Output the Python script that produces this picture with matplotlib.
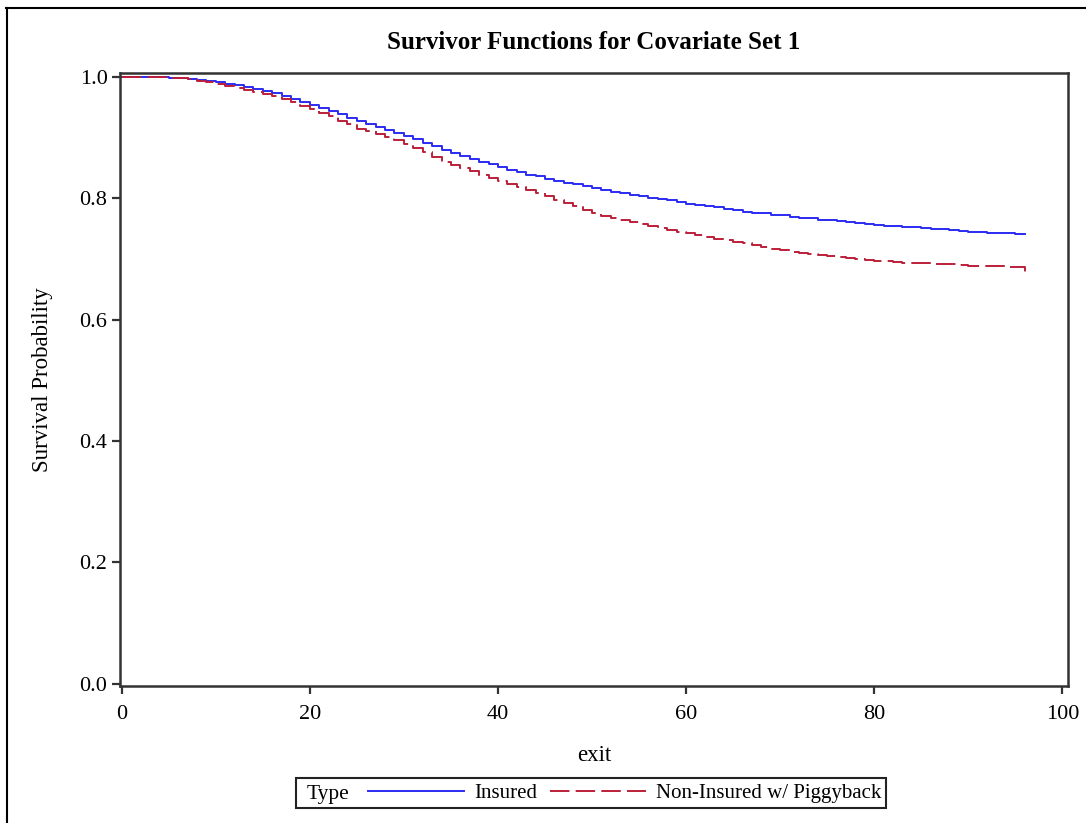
"""Survivor functions for covariate set 1 (SAS-style step plot)."""
import matplotlib
matplotlib.use('Agg')
import matplotlib.pyplot as plt
from matplotlib.lines import Line2D
from matplotlib.patches import Rectangle

plt.rcParams.update({
    'font.family': ['Liberation Serif', 'DejaVu Serif'],
    'figure.dpi': 100,
})

# time points (exit) and step values
exit_t = list(range(0, 97))

insured = [
    1.000, 1.000, 1.000, 1.000, 1.000, 0.999, 0.998, 0.997, 0.995, 0.993,
    0.991, 0.989, 0.986, 0.983, 0.980, 0.977, 0.973, 0.968, 0.964, 0.959,
    0.954, 0.949, 0.944, 0.939, 0.933, 0.928, 0.923, 0.918, 0.912, 0.907,
    0.902, 0.897, 0.891, 0.886, 0.880, 0.875, 0.870, 0.865, 0.860, 0.856,
    0.851, 0.847, 0.843, 0.839, 0.836, 0.832, 0.829, 0.826, 0.823, 0.820,
    0.817, 0.814, 0.811, 0.808, 0.806, 0.803, 0.801, 0.799, 0.797, 0.794,
    0.791, 0.789, 0.787, 0.785, 0.783, 0.781, 0.778, 0.776, 0.775, 0.773,
    0.772, 0.770, 0.768, 0.767, 0.765, 0.764, 0.762, 0.761, 0.759, 0.758,
    0.756, 0.755, 0.754, 0.753, 0.752, 0.751, 0.750, 0.749, 0.748, 0.746,
    0.745, 0.744, 0.743, 0.742, 0.742, 0.741, 0.741,
]

non_insured = [
    1.000, 1.000, 1.000, 1.000, 1.000, 0.999, 0.998, 0.996, 0.994, 0.991,
    0.988, 0.985, 0.982, 0.979, 0.976, 0.972, 0.968, 0.964, 0.959, 0.953,
    0.947, 0.941, 0.935, 0.928, 0.922, 0.915, 0.911, 0.906, 0.901, 0.896,
    0.890, 0.883, 0.876, 0.868, 0.860, 0.855, 0.850, 0.845, 0.839, 0.834,
    0.828, 0.823, 0.818, 0.813, 0.808, 0.803, 0.798, 0.793, 0.788, 0.781,
    0.775, 0.771, 0.768, 0.764, 0.761, 0.757, 0.754, 0.751, 0.748, 0.745,
    0.742, 0.739, 0.736, 0.733, 0.731, 0.728, 0.726, 0.723, 0.720, 0.717,
    0.714, 0.712, 0.710, 0.708, 0.707, 0.705, 0.703, 0.702, 0.700, 0.699,
    0.697, 0.696, 0.695, 0.694, 0.694, 0.693, 0.692, 0.692, 0.691, 0.690,
    0.689, 0.689, 0.688, 0.688, 0.687, 0.686, 0.679,
]

x_ticks = [0, 20, 40, 60, 80, 100]
y_ticks = [0.0, 0.2, 0.4, 0.6, 0.8, 1.0]
series_labels = ['Insured', 'Non-Insured w/ Piggyback']

W, H = 1086, 823
fig = plt.figure(figsize=(W / 100, H / 100), dpi=100)
ax = fig.add_axes([120 / W, 1 - 686 / H, (1068 - 120) / W, (686 - 73) / H])

l1, = ax.plot(exit_t, insured, drawstyle='steps-post', color='#2b2bf2',
              lw=1.4, label=series_labels[0])
l2, = ax.plot(exit_t, non_insured, drawstyle='steps-post', color='#bb1f38',
              lw=1.4, linestyle=(0, (10, 3.2)), label=series_labels[1])

ax.set_xlim(-0.18, 100.6)
ax.set_ylim(-0.0041, 1.0066)
ax.set_xticks(x_ticks)
ax.set_xticklabels([str(v) for v in x_ticks])
ax.set_yticks(y_ticks)
ax.set_yticklabels([f'{v:.1f}' for v in y_ticks])

for s in ax.spines.values():
    s.set_color('#333333')
    s.set_linewidth(1.8)
ax.tick_params(direction='out', length=6, width=1.6, color='#333333',
               labelsize=16)
ax.tick_params(axis='x', pad=8)
ax.tick_params(axis='y', pad=3)

ax.set_xlabel('exit', fontsize=16.5, labelpad=15)
ax.set_ylabel('Survival Probability', fontsize=16.5, labelpad=19)
ax.set_title('Survivor Functions for Covariate Set 1', fontsize=18,
             fontweight='bold', pad=17)

# legend box at the bottom
fig.add_artist(Rectangle((296 / W, 1 - 808 / H), 590 / W, 30 / H,
                         transform=fig.transFigure, fill=False,
                         edgecolor='#222222', lw=1.5))
fig.text(307 / W, 1 - 794 / H, 'Type', fontsize=15.5, ha='left', va='center')
fig.legend(handles=[l1, l2], loc='center left',
           bbox_to_anchor=(368 / W, 1 - 793 / H), ncol=2, frameon=False,
           fontsize=15, borderpad=0, borderaxespad=0, handlelength=4.6,
           handletextpad=0.5, columnspacing=0.6)

# page border (cropped figure frame)
fig.add_artist(Line2D([6 / W, 1], [1 - 7.5 / H, 1 - 7.5 / H],
                      transform=fig.transFigure, color='black', lw=1.5))
fig.add_artist(Line2D([6.5 / W, 6.5 / W], [0, 1 - 7.5 / H],
                      transform=fig.transFigure, color='black', lw=1.5))

fig.savefig('out.png', dpi=100)
